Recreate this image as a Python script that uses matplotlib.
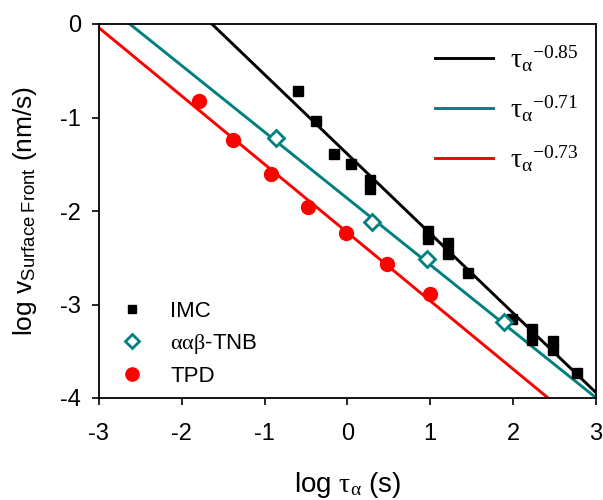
import matplotlib
matplotlib.use('Agg')
import matplotlib.pyplot as plt
from matplotlib.lines import Line2D
import numpy as np

plt.rcParams['font.family'] = ['Liberation Sans', 'DejaVu Sans']
plt.rcParams['mathtext.fontset'] = 'custom'
plt.rcParams['mathtext.rm'] = 'Liberation Serif'
plt.rcParams['mathtext.it'] = 'Liberation Serif:italic'
plt.rcParams['mathtext.sf'] = 'Liberation Sans'
plt.rcParams['axes.unicode_minus'] = False

# IMC
imc_x = [-0.59, -0.38, -0.16, 0.05, 0.27, 0.27, 0.97, 0.97, 1.21, 1.21, 1.46,
         1.99, 2.23, 2.23, 2.48, 2.48, 2.77]
imc_y = [-0.72, -1.04, -1.39, -1.50, -1.67, -1.77, -2.21, -2.30, -2.34, -2.46,
         -2.66, -3.16, -3.26, -3.38, -3.39, -3.49, -3.73]
# aab-TNB
tnb_x = [-0.86, 0.30, 0.96, 1.89]
tnb_y = [-1.22, -2.12, -2.51, -3.19]
# TPD
tpd_x = [-1.79, -1.38, -0.92, -0.47, -0.02, 0.48, 1.00]
tpd_y = [-0.82, -1.24, -1.60, -1.96, -2.23, -2.57, -2.89]

# power-law fits: slope, intercept
slopes = [-0.85, -0.71, -0.73]
intercepts = [-1.39, -1.865, -2.23]
fit_colors = ['black', '#008080', '#ff0000']
fit_labels = [r'$\mathrm{\tau}_{\mathrm{\alpha}}{}^{-0.85}$',
              r'$\mathrm{\tau}_{\mathrm{\alpha}}{}^{-0.71}$',
              r'$\mathrm{\tau}_{\mathrm{\alpha}}{}^{-0.73}$']

fig = plt.figure(figsize=(6.03, 5.0), dpi=100)
ax = fig.add_axes([0.164, 0.204, 0.824, 0.748])

xx = np.linspace(-3, 3, 200)
fit_handles = []
for m, b, c, lab in zip(slopes, intercepts, fit_colors, fit_labels):
    h, = ax.plot(xx, m * xx + b, color=c, lw=2.1, label=lab, zorder=2)
    fit_handles.append(h)

ax.plot(imc_x, imc_y, 's', color='black', ms=7.5, ls='none', zorder=3)
ax.plot(tnb_x, tnb_y, 'D', mfc='white', mec='#008080', mew=2, ms=8,
        ls='none', zorder=4)
ax.plot(tpd_x, tpd_y, 'o', color='#ff0000', ms=10, ls='none', zorder=3)

# legend proxies (legend markers are a bit smaller than the plotted ones)
p1 = Line2D([], [], marker='s', color='black', ms=5.5, ls='none', label='IMC')
p2 = Line2D([], [], marker='D', mfc='white', mec='#008080', mew=2, ms=7.5,
            ls='none', label=r'$\mathrm{\alpha\alpha\beta}$-TNB')
p3 = Line2D([], [], marker='o', color='#ff0000', ms=9.5, ls='none', label='TPD')

ax.set_xlim(-3, 3)
ax.set_ylim(-4, 0)
ax.set_xticks([-3, -2, -1, 0, 1, 2, 3])
ax.set_yticks([0, -1, -2, -3, -4])
ax.tick_params(direction='out', length=5, width=1.2, labelsize=17)
ax.tick_params(axis='x', pad=13)
ax.tick_params(axis='y', pad=8)
for s in ax.spines.values():
    s.set_linewidth(1.3)

ax.set_xlabel(r'log $\mathrm{\tau}_{\mathrm{\alpha}}$ (s)', fontsize=20, labelpad=18)
ax.set_ylabel(r'log v$_{\mathsf{Surface\ Front}}$ (nm/s)', fontsize=19, labelpad=15)

leg1 = ax.legend(handles=[p1, p2, p3], loc='lower left', bbox_to_anchor=(0.0, -0.012),
                 frameon=False, fontsize=16, handlelength=1.6, handletextpad=0.9,
                 labelspacing=0.45, borderaxespad=0.3)
ax.add_artist(leg1)
ax.legend(handles=fit_handles, loc='upper right', bbox_to_anchor=(1.004, 1.0),
          frameon=False, fontsize=20, handlelength=2.1, handletextpad=0.6,
          labelspacing=0.7, borderaxespad=0.3)

fig.savefig('out.png', dpi=100)
